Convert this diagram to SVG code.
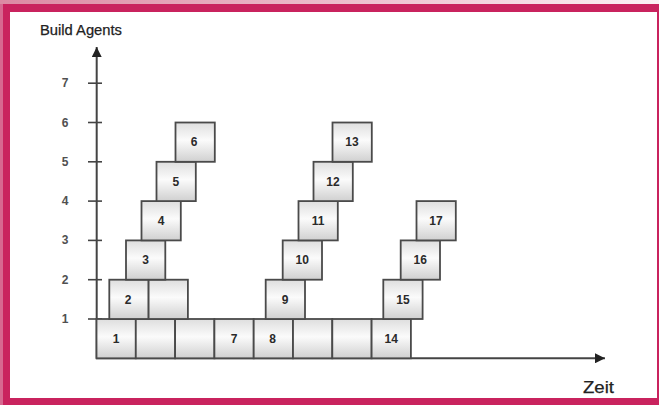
<svg xmlns="http://www.w3.org/2000/svg" width="659" height="405" viewBox="0 0 659 405">
<defs>
<linearGradient id="band" x1="0" y1="0" x2="1" y2="0">
<stop offset="0" stop-color="#dc8aa3"/>
<stop offset="0.6" stop-color="#efc6d3"/>
<stop offset="1" stop-color="#fbf1f4"/>
</linearGradient>
<linearGradient id="boxfill" x1="0" y1="0" x2="0" y2="1">
<stop offset="0" stop-color="#dedede"/>
<stop offset="0.45" stop-color="#fbfbfb"/>
<stop offset="1" stop-color="#d0d0d0"/>
</linearGradient>
<marker id="arr" viewBox="0 0 10 10" refX="10" refY="5" markerWidth="5" markerHeight="5" orient="auto" markerUnits="strokeWidth">
<path d="M0,0 L10,5 L0,10 z" fill="#222"/>
</marker>
</defs>
<style>
.box{fill:url(#boxfill);stroke:#4a4a4a;stroke-width:1.8}
.bl{font-family:"Liberation Sans",Arial,sans-serif;font-size:12px;font-weight:bold;fill:#2a2a2a;text-anchor:middle}
.tl{font-family:"Liberation Sans",Arial,sans-serif;font-size:12px;font-weight:bold;fill:#505050;text-anchor:middle}
.ax{stroke:#444;stroke-width:2;fill:none}
.tick{stroke:#444;stroke-width:1.6}
.title{font-family:"Liberation Sans",Arial,sans-serif;fill:#222;stroke:#222;stroke-width:0.25}
</style>
<g id="frame">
<rect x="0" y="0" width="659" height="405" fill="#c9235e"/>
<rect x="0" y="0" width="659" height="4" fill="url(#band)"/>
<rect x="0" y="4" width="3" height="401" fill="#d76890"/>
<rect x="10" y="12" width="647" height="386" fill="#ffffff"/>
</g>
<g id="axes">
<line class="ax" x1="96.7" y1="358.5" x2="96.7" y2="47" marker-end="url(#arr)"/>
<line class="ax" x1="96" y1="358.3" x2="605" y2="358.3" marker-end="url(#arr)"/>
<g class="tick">
<line x1="88" y1="319" x2="102" y2="319"/>
<line x1="88" y1="279.7" x2="102" y2="279.7"/>
<line x1="88" y1="240.4" x2="102" y2="240.4"/>
<line x1="88" y1="201.1" x2="102" y2="201.1"/>
<line x1="88" y1="161.8" x2="102" y2="161.8"/>
<line x1="88" y1="122.5" x2="102" y2="122.5"/>
<line x1="88" y1="83.2" x2="102" y2="83.2"/>
</g>
<text class="tl" x="65" y="323">1</text>
<text class="tl" x="65" y="283.7">2</text>
<text class="tl" x="65" y="244.4">3</text>
<text class="tl" x="65" y="205.1">4</text>
<text class="tl" x="65" y="165.8">5</text>
<text class="tl" x="65" y="126.5">6</text>
<text class="tl" x="65" y="87.2">7</text>
<text class="title" x="40" y="35" font-size="14.5" textLength="82" lengthAdjust="spacingAndGlyphs">Build Agents</text>
<text class="title" x="583" y="393" font-size="17" textLength="31" lengthAdjust="spacingAndGlyphs">Zeit</text>
</g>
<g id="row1">
<g id="b1"><rect class="box" x="96.5" y="319" width="39.3" height="39.3"/><text class="bl" x="116.2" y="342.9">1</text></g>
<g id="b1b"><rect class="box" x="135.8" y="319" width="39.3" height="39.3"/></g>
<g id="b1c"><rect class="box" x="175.1" y="319" width="39.3" height="39.3"/></g>
<g id="b7"><rect class="box" x="214.4" y="319" width="39.3" height="39.3"/><text class="bl" x="234" y="342.9">7</text></g>
<g id="b8"><rect class="box" x="253.7" y="319" width="39.3" height="39.3"/><text class="bl" x="272.5" y="342.9">8</text></g>
<g id="b8b"><rect class="box" x="293" y="319" width="39.3" height="39.3"/></g>
<g id="b8c"><rect class="box" x="332.3" y="319" width="39.3" height="39.3"/></g>
<g id="b14"><rect class="box" x="371.6" y="319" width="39.3" height="39.3"/><text class="bl" x="391.2" y="342.9">14</text></g>
</g>
<g id="stack1">
<g id="b2"><rect class="box" x="109.3" y="279.7" width="39.3" height="39.3"/><text class="bl" x="128" y="303.6">2</text></g>
<g id="b2b"><rect class="box" x="148.6" y="279.7" width="39.3" height="39.3"/></g>
<g id="b3"><rect class="box" x="126" y="240.4" width="39.3" height="39.3"/><text class="bl" x="145.5" y="264.3">3</text></g>
<g id="b4"><rect class="box" x="141.5" y="201.1" width="39.3" height="39.3"/><text class="bl" x="161" y="225">4</text></g>
<g id="b5"><rect class="box" x="156.5" y="161.8" width="39.3" height="39.3"/><text class="bl" x="175.8" y="185.7">5</text></g>
<g id="b6"><rect class="box" x="175.5" y="122.5" width="39.3" height="39.3"/><text class="bl" x="194" y="146.4">6</text></g>
</g>
<g id="stack2">
<g id="b9"><rect class="box" x="265.7" y="279.7" width="39.3" height="39.3"/><text class="bl" x="285" y="303.6">9</text></g>
<g id="b10"><rect class="box" x="282.7" y="240.4" width="39.3" height="39.3"/><text class="bl" x="302.3" y="264.3">10</text></g>
<g id="b11"><rect class="box" x="298.5" y="201.1" width="39.3" height="39.3"/><text class="bl" x="318" y="225">11</text></g>
<g id="b12"><rect class="box" x="313.5" y="161.8" width="39.3" height="39.3"/><text class="bl" x="333" y="185.7">12</text></g>
<g id="b13"><rect class="box" x="332.5" y="122.5" width="39.3" height="39.3"/><text class="bl" x="352" y="146.4">13</text></g>
</g>
<g id="stack3">
<g id="b15"><rect class="box" x="383.3" y="279.7" width="39.3" height="39.3"/><text class="bl" x="403" y="303.6">15</text></g>
<g id="b16"><rect class="box" x="400.7" y="240.4" width="39.3" height="39.3"/><text class="bl" x="420.3" y="264.3">16</text></g>
<g id="b17"><rect class="box" x="416.5" y="201.1" width="39.3" height="39.3"/><text class="bl" x="436" y="225">17</text></g>
</g>
</svg>
